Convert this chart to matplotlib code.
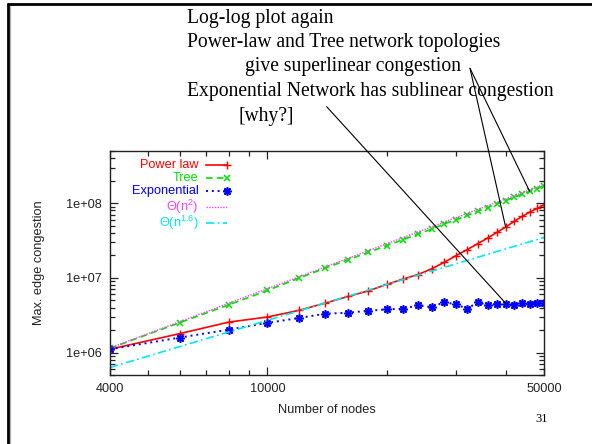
import matplotlib
matplotlib.use("Agg")
import matplotlib.pyplot as plt
from matplotlib.lines import Line2D
from matplotlib.ticker import FixedLocator, FixedFormatter, NullFormatter

plt.rcParams['font.family'] = ['Liberation Sans', 'DejaVu Sans']
plt.rcParams['mathtext.fontset'] = 'custom'
plt.rcParams['mathtext.rm'] = 'Liberation Sans'
plt.rcParams['mathtext.default'] = 'regular'

# ---- data ----
nodes = [4000, 6000, 8000, 10000, 12000, 14000, 16000, 18000, 20000, 22000,
         24000, 26000, 28000, 30000, 32000, 34000, 36000, 38000, 40000, 42000,
         44000, 46000, 48000, 50000]
power_law = [1.107e6, 1.79e6, 2.56e6, 2.99e6, 3.66e6, 4.59e6, 5.64e6, 6.71e6,
             8.15e6, 9.6e6, 1.107e7, 1.32e7, 1.62e7, 1.99e7, 2.39e7, 2.87e7,
             3.41e7, 4.06e7, 4.79e7, 5.7e7, 6.64e7, 7.59e7, 8.49e7, 9.5e7]
tree = [1.14e6, 2.51e6, 4.37e6, 6.78e6, 9.9e6, 1.35e7, 1.75e7, 2.2e7, 2.7e7,
        3.24e7, 3.86e7, 4.5e7, 5.3e7, 6.0e7, 6.85e7, 7.8e7, 8.75e7, 9.8e7,
        1.086e8, 1.2e8, 1.32e8, 1.44e8, 1.57e8, 1.70e8]
exponential = [1.107e6, 1.585e6, 2.03e6, 2.49e6, 2.9e6, 3.31e6, 3.41e6, 3.63e6,
               3.78e6, 3.86e6, 4.27e6, 4.06e6, 4.73e6, 4.4e6, 3.86e6, 4.73e6,
               4.31e6, 4.5e6, 4.4e6, 4.31e6, 4.64e6, 4.5e6, 4.64e6, 4.64e6]
theta_x = [4000, 50000]
theta_n2 = [1.15e6, 1.78e8]
theta_n16 = [6.3e5, 3.48e7]

series_labels = ['Power law', 'Tree', 'Exponential',
                 r'Θ(n$^{2}$)', r'Θ(n$^{1.6}$)']
xtick_vals = [4000, 10000, 50000]
xtick_labels = ['4000', '10000', '50000']
ytick_vals = [1e6, 1e7, 1e8]
ytick_labels = ['1e+06', '1e+07', '1e+08']

slide_lines = ['Log-log plot again',
               'Power-law and Tree network topologies',
               'give superlinear congestion',
               'Exponential Network has sublinear congestion',
               '[why?]']

# ---- figure ----
W, H = 592, 444
fig = plt.figure(figsize=(W / 100, H / 100), dpi=100)
ax = fig.add_axes([110 / W, 1 - 375 / H, 434 / W, 224 / H])

RED = '#ff0000'
GREEN = '#00e000'
BLUE = '#0000ff'
MAG = '#ff40ff'
CYAN = '#00e8f0'
FS = 9.2

ax.plot(nodes, power_law, color=RED, lw=1.2, marker='+', ms=6, mew=1.0)
ax.plot(nodes, tree, color=GREEN, lw=1.2, ls=(0, (4, 2.5)), marker='x', ms=5, mew=1.1)
ax.plot(nodes, exponential, color=BLUE, lw=1.4, ls=(0, (1, 2)), marker=(8, 2, 0), ms=6, mew=1.2)
ax.plot(theta_x, theta_n2, color=MAG, lw=1.0, ls=(0, (1, 1)))
ax.plot(theta_x, theta_n16, color=CYAN, lw=1.2, ls=(0, (5, 2, 1, 2)))

ax.set_xscale('log')
ax.set_yscale('log')
ax.set_xlim(4000, 50000)
ax.set_ylim(5e5, 5e8)

ax.xaxis.set_major_locator(FixedLocator(xtick_vals))
ax.xaxis.set_major_formatter(FixedFormatter(xtick_labels))
ax.xaxis.set_minor_locator(FixedLocator([5000, 6000, 7000, 8000, 9000, 20000, 30000, 40000]))
ax.xaxis.set_minor_formatter(NullFormatter())
ax.yaxis.set_major_locator(FixedLocator(ytick_vals))
ax.yaxis.set_major_formatter(FixedFormatter(ytick_labels))
ax.yaxis.set_minor_locator(FixedLocator([m * 10 ** e for e in (5, 6, 7, 8) for m in range(2, 10)]))
ax.yaxis.set_minor_formatter(NullFormatter())

ax.tick_params(which='both', direction='in', top=True, right=True, width=0.9, colors='#222222', labelcolor='#222222')
ax.tick_params(which='major', length=6, labelsize=FS, pad=6)
ax.tick_params(which='minor', length=3.5)
for s in ax.spines.values():
    s.set_linewidth(1.0)
    s.set_color('#222222')

ax.set_xlabel('Number of nodes', fontsize=FS, color='#222222', labelpad=6)
ax.set_ylabel('Max. edge congestion', fontsize=FS, color='#222222', labelpad=15)

# ---- gnuplot-style legend (right-justified text, sample on the right) ----
leg_styles = [dict(color=RED, lw=1.2, marker='+', ms=6, mew=1.0),
              dict(color=GREEN, lw=1.2, ls=(0, (4, 2.5)), marker='x', ms=5, mew=1.1),
              dict(color=BLUE, lw=1.4, ls=(0, (1, 2)), marker=(8, 2, 0), ms=6, mew=1.2),
              dict(color=MAG, lw=1.0, ls=(0, (1, 1))),
              dict(color=CYAN, lw=1.2, ls=(0, (5, 2, 1, 2)))]
leg_y = [0.936, 0.878, 0.821, 0.751, 0.677]
for yy, lab, st in zip(leg_y, series_labels, leg_styles):
    ax.text(0.2035, yy, lab, transform=ax.transAxes, ha='right', va='center',
            fontsize=FS, color=st['color'])
    ax.add_line(Line2D([0.221, 0.270], [yy, yy], transform=ax.transAxes,
                       markevery=[1] if 'marker' in st else None, **st))

# ---- slide text ----
serif = ['Liberation Serif', 'DejaVu Serif']
txt_pos = [(187, 18), (187, 42.5), (245, 67), (187, 91.5), (238, 116)]
for (px, py), t in zip(txt_pos, slide_lines):
    fig.text(px / W, 1 - py / H, t, family=serif, fontsize=14.1, ha='left', va='center')
fig.text(541.7 / W, 1 - 418.5 / H, '31', family=serif, fontsize=9, ha='center', va='center')

# ---- annotation lines ----
def pointer(xpix, ypix, xd, yd):
    ax.annotate('', xy=(xd, yd), xycoords='data',
                xytext=(xpix / W, 1 - ypix / H), textcoords='figure fraction',
                arrowprops=dict(arrowstyle='-', shrinkA=0, shrinkB=0, lw=0.8, color='black'),
                annotation_clip=False)

pointer(470, 68.3, nodes[18], power_law[18])
pointer(470, 68.3, nodes[21], tree[21])
pointer(326.7, 106.7, nodes[18], exponential[18] * 1.04)

# ---- slide frame ----
fig.add_artist(Line2D([7 / W, 1.0], [1 - 4.5 / H, 1 - 4.5 / H], transform=fig.transFigure,
                      color='black', lw=2.0, solid_capstyle='butt'))
fig.add_artist(Line2D([8 / W, 8 / W], [1 - 3.5 / H, 0.0], transform=fig.transFigure,
                      color='black', lw=2.0, solid_capstyle='butt'))
fig.add_artist(Line2D([10 / W, 10 / W], [1 - 6 / H, 0.0], transform=fig.transFigure,
                      color='#aaaaaa', lw=0.8, solid_capstyle='butt'))

fig.savefig('out.png', dpi=100)
